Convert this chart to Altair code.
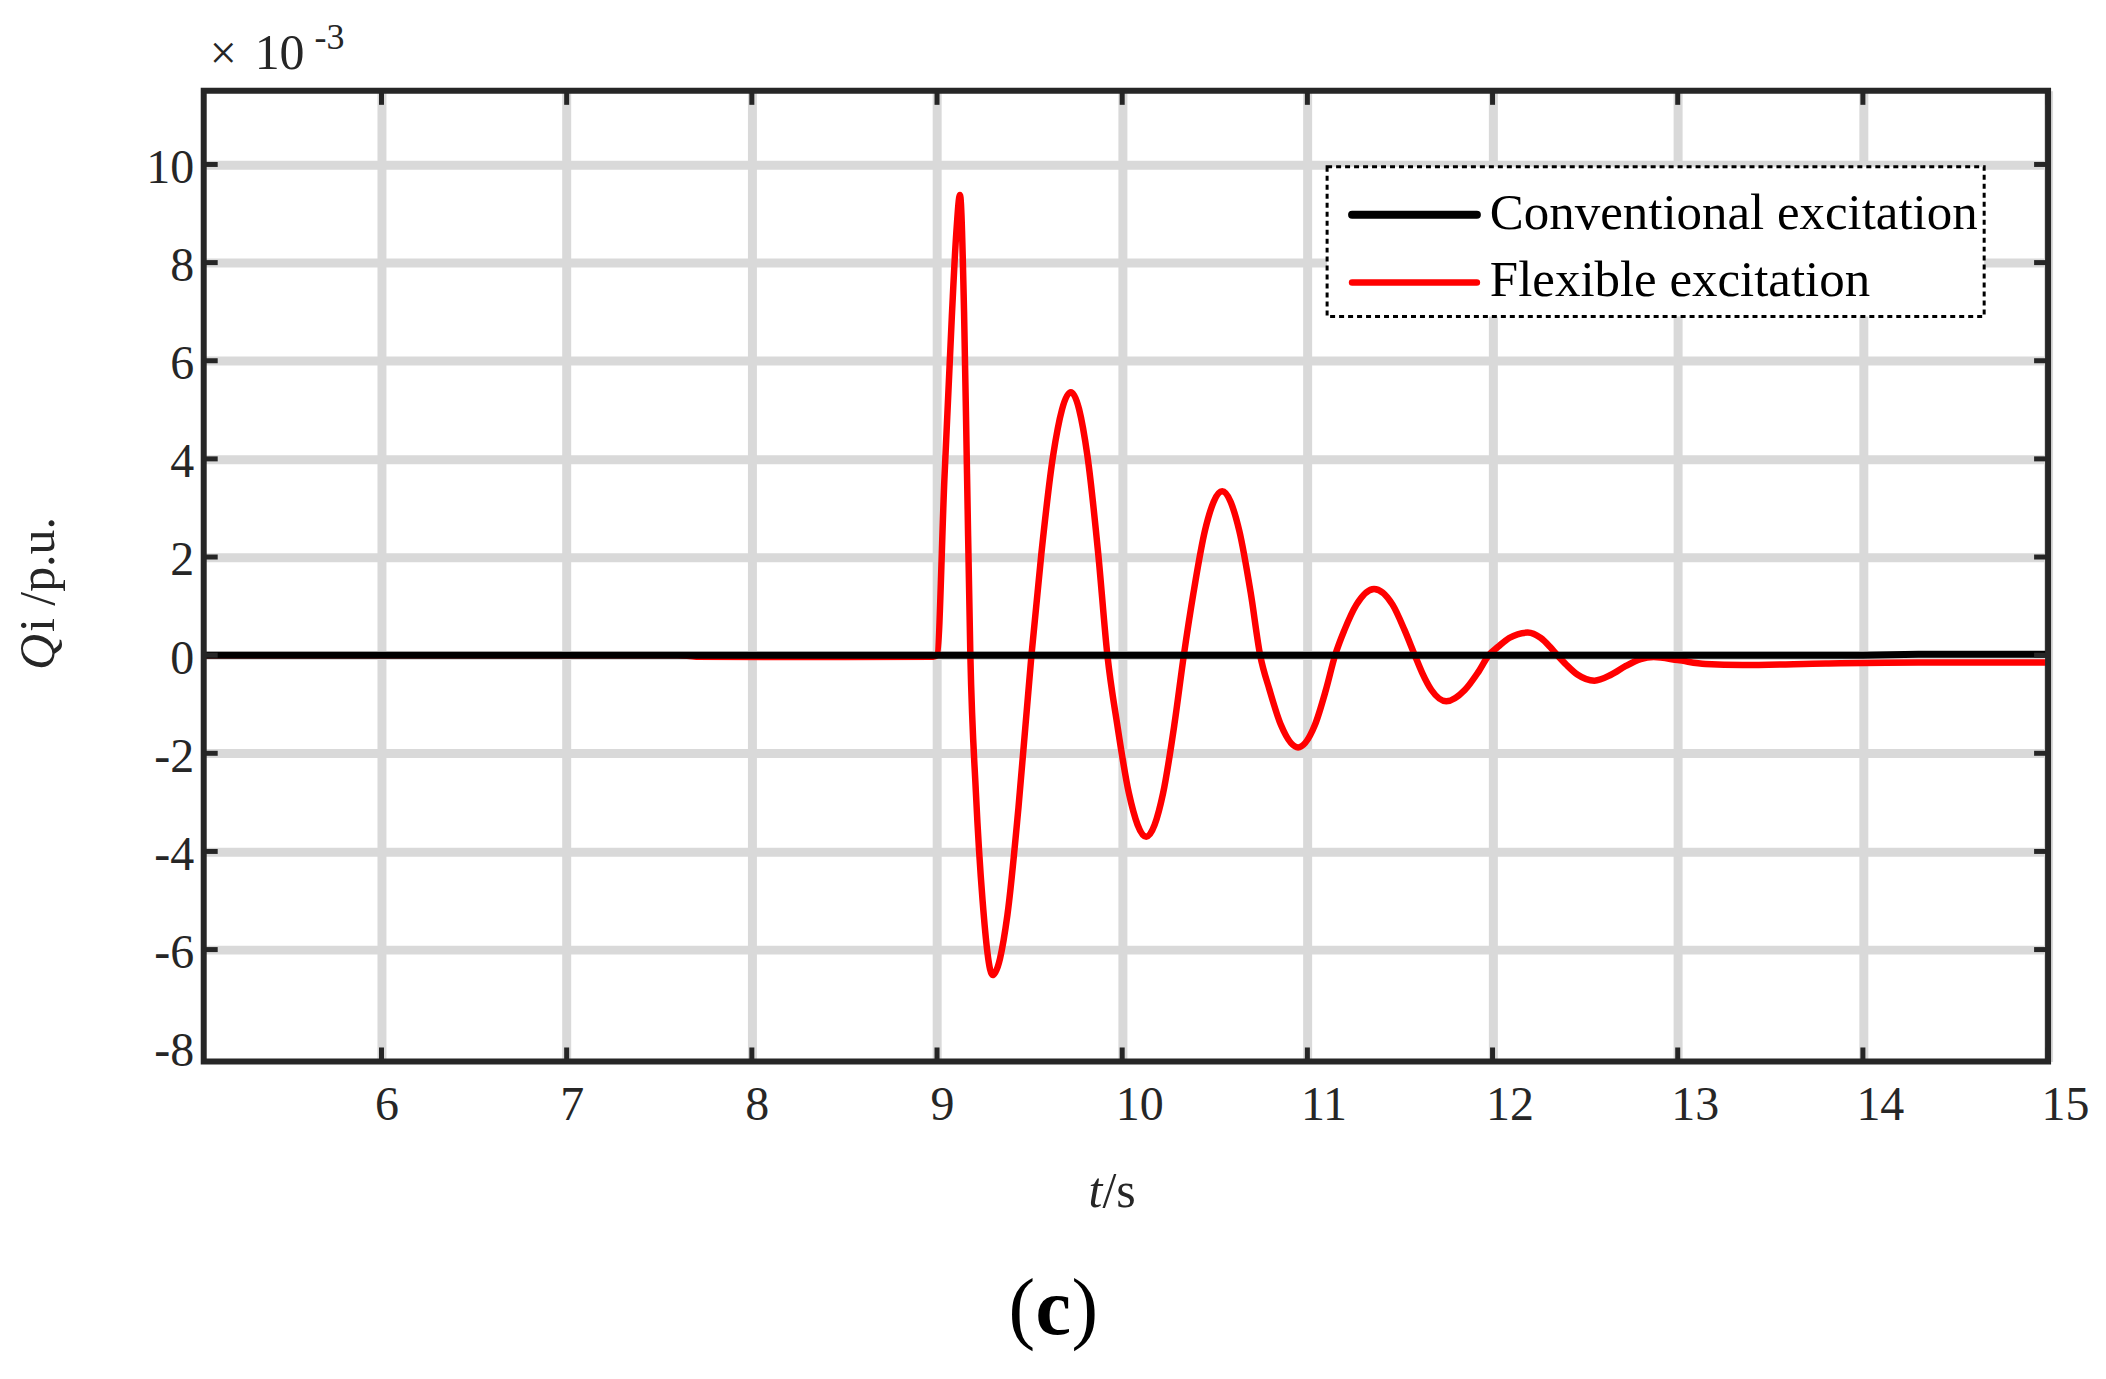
import altair as alt
import pandas as pd

# ---------------- data (values in units of 1e-3 p.u.) ----------------
t_flex = [5.04, 7.6, 7.7, 8.5, 8.98, 9.0, 9.04, 9.08, 9.104, 9.124, 9.146, 9.162, 9.18,
          9.21, 9.246, 9.30, 9.38, 9.44, 9.51,
          9.563, 9.627, 9.723, 9.812, 9.871, 9.92,
          9.973, 10.036, 10.13, 10.221, 10.282, 10.333,
          10.385, 10.447, 10.54, 10.632, 10.694, 10.745,
          10.796, 10.858, 10.95, 11.04, 11.10, 11.15,
          11.20, 11.265, 11.36, 11.46, 11.525, 11.58,
          11.62, 11.67, 11.75, 11.85, 11.92, 11.98,
          12.03, 12.09, 12.19, 12.26, 12.31, 12.35,
          12.40, 12.46, 12.55, 12.64, 12.72, 12.80, 12.87,
          13.0, 13.15, 13.35, 13.8, 14.3, 15.0]
q_flex = [0.0, 0.0, -0.03, -0.04, -0.03, 0.0, 3.6, 6.9, 8.6, 9.38, 7.0, 3.7, 0.0,
          -2.8, -5.0, -6.52, -5.3, -3.1, 0.0,
          2.05, 4.07, 5.36, 4.07, 2.05, 0.0,
          -1.41, -2.81, -3.70, -2.81, -1.41, 0.0,
          1.27, 2.54, 3.34, 2.54, 1.27, 0.0,
          -0.71, -1.43, -1.88, -1.43, -0.71, 0.0,
          0.51, 1.03, 1.35, 1.03, 0.51, 0.0,
          -0.36, -0.71, -0.94, -0.71, -0.36, 0.0,
          0.17, 0.35, 0.46, 0.35, 0.17, 0.0,
          -0.2, -0.4, -0.52, -0.4, -0.22, -0.08, -0.04,
          -0.1, -0.18, -0.2, -0.17, -0.15, -0.15]

t_conv = [5.04, 7.0, 8.0, 9.0, 10.0, 11.0, 12.0, 13.0, 14.0, 14.3, 15.0]
q_conv = [0.0, 0.0, 0.0, 0.0, 0.0, 0.0, 0.0, 0.0, 0.0, 0.02, 0.02]

series_names = ["Conventional excitation", "Flexible excitation"]
series_colors = ["#000000", "#ff0000"]

x_ticks = [6, 7, 8, 9, 10, 11, 12, 13, 14, 15]
y_ticks = [-8, -6, -4, -2, 0, 2, 4, 6, 8, 10]
y_tick_marks = [-6, -4, -2, 0, 2, 4, 6, 8, 10]
x_domain = [5.04, 15]
y_domain = [-8.28, 11.5]

# ---------------- layout ----------------
W, H = 1847, 972
FONT = "Liberation Serif"
AX = "#262626"

flex_df = pd.DataFrame({"t": t_flex, "q": q_flex})
conv_df = pd.DataFrame({"t": t_conv, "q": q_conv})
xt_df = pd.DataFrame({"t": x_ticks})
yt_df = pd.DataFrame({"q": y_tick_marks})
one = pd.DataFrame({"a": [0]})

xscale = alt.Scale(domain=x_domain, nice=False, zero=False)
yscale = alt.Scale(domain=y_domain, nice=False, zero=False)

x_axis = alt.Axis(values=x_ticks, title=None, grid=True, gridColor="#d9d9d9", gridWidth=9,
                  domain=False, ticks=False, tickSize=0, labelFont=FONT, labelFontSize=48,
                  labelColor=AX, labelPadding=20, labelAlign="left", labelOffset=-7,
                  labelFlush=False, labelOverlap=False)
y_axis = alt.Axis(values=y_ticks, title=None, grid=True, gridColor="#d9d9d9", gridWidth=9,
                  gridOpacity={"condition": {"test": "datum.value == -8", "value": 0}, "value": 1},
                  domain=False, ticks=False, tickSize=0, labelFont=FONT, labelFontSize=48,
                  labelColor=AX, labelPadding=10, labelOffset=4, labelFlush=False,
                  labelOverlap=False,
                  labelExpr="datum.value < 0 ? '-' + abs(datum.value) : '' + datum.value")

X = alt.X("t:Q", scale=xscale, axis=x_axis)
Y = alt.Y("q:Q", scale=yscale, axis=y_axis)

flex_line = alt.Chart(flex_df).mark_line(color=series_colors[1], strokeWidth=6.5,
                                         interpolate="monotone", clip=True).encode(x=X, y=Y)
conv_line = alt.Chart(conv_df).mark_line(color=series_colors[0], strokeWidth=7,
                                         clip=True).encode(x=X, y=Y)

tick_len = 14
tick_kw = dict(color=AX, strokeWidth=5)
bottom_ticks = alt.Chart(xt_df).mark_rule(**tick_kw).encode(
    x=X, y=alt.value(H), y2=alt.value(H - tick_len))
top_ticks = alt.Chart(xt_df).mark_rule(**tick_kw).encode(
    x=X, y=alt.value(0), y2=alt.value(tick_len))
left_ticks = alt.Chart(yt_df).mark_rule(**tick_kw).encode(
    y=Y, x=alt.value(0), x2=alt.value(tick_len))
right_ticks = alt.Chart(yt_df).mark_rule(**tick_kw).encode(
    y=Y, x=alt.value(W), x2=alt.value(W - tick_len))

frame = alt.Chart(one).mark_rect(fillOpacity=0, stroke=AX, strokeWidth=6).encode(
    x=alt.value(0), x2=alt.value(W), y=alt.value(0), y2=alt.value(H))

# legend (manual, boxed with dotted border)
leg_box = alt.Chart(one).mark_rect(fill="white", stroke="black", strokeWidth=3,
                                   strokeDash=[5, 4]).encode(
    x=alt.value(1125), x2=alt.value(1783), y=alt.value(76), y2=alt.value(226))
leg_layers = [leg_box]
for name, col, ly, by, sw in zip(series_names, series_colors, [124, 192], [138, 205], [8, 6.5]):
    leg_layers.append(alt.Chart(one).mark_rule(color=col, strokeWidth=sw, strokeCap="round").encode(
        x=alt.value(1150), x2=alt.value(1275), y=alt.value(ly)))
    leg_layers.append(alt.Chart(one).mark_text(text=name, font=FONT, fontSize=51, color="black",
                                               align="left", baseline="alphabetic").encode(
        x=alt.value(1288), y=alt.value(by)))

def txt(s, x, y, size=50, style="normal", weight="normal", angle=0, align="left", color=AX):
    kw = dict(text=s, font=FONT, fontSize=size, fontStyle=style, fontWeight=weight,
              color=color, align=align, baseline="alphabetic")
    if angle:
        kw["angle"] = angle
    return alt.Chart(one).mark_text(**kw).encode(x=alt.value(x), y=alt.value(y))

texts = [
    txt("×", 6, -22, size=48),
    txt("10", 51, -22, size=50),
    txt("-3", 111, -42, size=36),
    txt("Q", -150, 580, style="italic", angle=270),
    txt("i /p.u.", -150, 542, angle=270),
    txt("t", 886, 1118, style="italic"),
    txt("/s", 900, 1118),
    txt("(", 806, 1245, size=80, color="black"),
    txt("c", 833, 1245, size=80, weight="bold", color="black"),
    txt(")", 869, 1245, size=80, color="black"),
]

chart = alt.layer(flex_line, conv_line, bottom_ticks, top_ticks, left_ticks, right_ticks,
                  frame, *leg_layers, *texts).properties(
    width=W, height=H,
    padding={"left": 196, "top": 82, "right": 50, "bottom": 300},
    autosize=alt.AutoSizeParams(type="none"),
    background="white",
).configure_view(strokeWidth=0)

chart.save("out.html", embed_options={"renderer": "svg", "actions": False})
